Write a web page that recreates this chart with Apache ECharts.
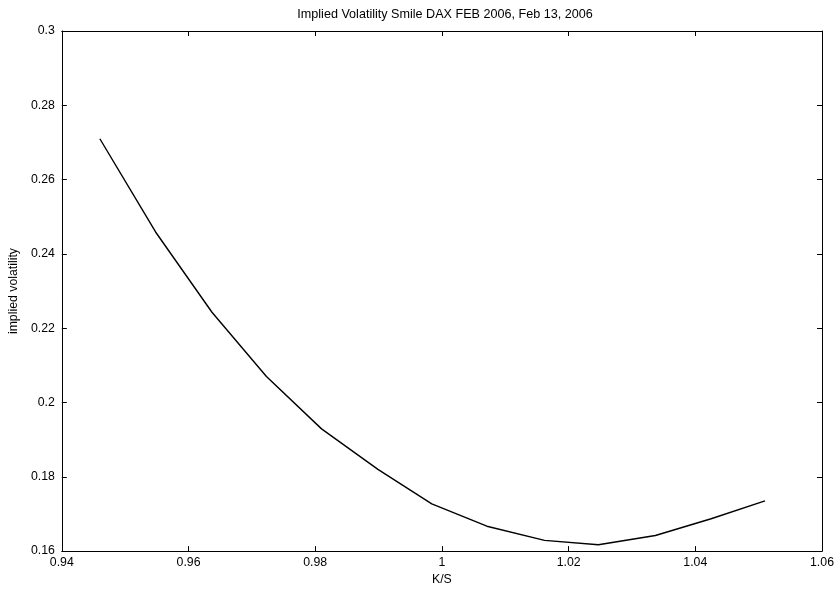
<!DOCTYPE html>
<html>
<head>
<meta charset="utf-8">
<script src="https://cdn.jsdelivr.net/npm/echarts@6/dist/echarts.min.js"></script>
<style>html,body{margin:0;padding:0;background:#fff;}#c{width:837px;height:591px;}</style>
</head>
<body>
<div id="c"></div>
<script>
var moneyness = [0.9460, 0.9548, 0.9637, 0.9723, 0.9810, 0.9899, 0.9984, 1.0071, 1.0162, 1.0247, 1.0337, 1.0425, 1.0510];
var impliedVol = [0.2710, 0.2459, 0.2243, 0.2070, 0.1929, 0.1820, 0.1727, 0.1667, 0.1629, 0.1617, 0.1642, 0.1687, 0.1735];
var titleText = 'Implied Volatility Smile DAX FEB 2006, Feb 13, 2006';
var xName = 'K/S';
var yName = 'implied volatility';

var font = 'Liberation Sans, Arial, Helvetica, sans-serif';
var fs = 12.3;
var points = moneyness.map(function (x, i) { return [x, impliedVol[i]]; });
var chart = echarts.init(document.getElementById('c'), null, {renderer: 'canvas'});
var lineStyle = {color: '#000', width: 1};
function axisBase(extra) {
  var o = {
    axisLine: {show: true, onZero: false, lineStyle: lineStyle},
    axisTick: {show: true, inside: true, length: 5, lineStyle: lineStyle},
    splitLine: {show: false},
    axisLabel: {color: '#000', fontSize: fs, fontFamily: font, margin: 6}
  };
  for (var k in extra) o[k] = extra[k];
  return o;
}
chart.setOption({
  animation: false,
  backgroundColor: '#fff',
  title: {
    text: titleText, left: 440, top: 3, textAlign: 'center',
    textStyle: {fontSize: 12.6, fontWeight: 'normal', color: '#000', fontFamily: font}
  },
  grid: {left: 57, right: 15, top: 31, bottom: 37, containLabel: false},
  xAxis: [
    axisBase({type: 'value', min: 0.94, max: 1.06, interval: 0.02, position: 'bottom',
      name: xName, nameLocation: 'middle', nameGap: 19,
      nameTextStyle: {color: '#000', fontSize: fs, fontFamily: font}}),
    axisBase({type: 'value', min: 0.94, max: 1.06, interval: 0.02, position: 'top',
      axisLabel: {show: false}})
  ],
  yAxis: [
    axisBase({type: 'value', min: 0.16, max: 0.30, interval: 0.02, position: 'left',
      name: yName, nameLocation: 'middle', nameGap: 41, nameRotate: 90,
      axisLabel: {color: '#000', fontSize: fs, fontFamily: font, margin: 7},
      nameTextStyle: {color: '#000', fontSize: fs, fontFamily: font}}),
    axisBase({type: 'value', min: 0.16, max: 0.30, interval: 0.02, position: 'right',
      axisLabel: {show: false}})
  ],
  series: [{
    type: 'line', data: points, showSymbol: false, symbol: 'none',
    xAxisIndex: 0, yAxisIndex: 0,
    lineStyle: {color: '#000', width: 1.4}
  }]
});
</script>
</body>
</html>
